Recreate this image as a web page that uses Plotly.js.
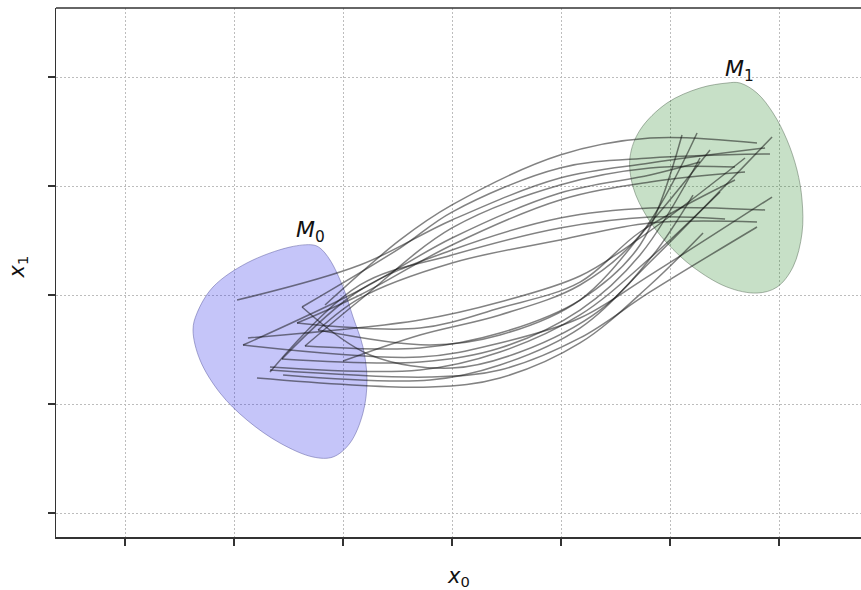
<!DOCTYPE html>
<html>
<head>
<meta charset="utf-8">
<script src="https://cdn.plot.ly/plotly-3.0.1.min.js"></script>
<style>html,body{margin:0;padding:0;background:#fff;}#chart{width:861px;height:590px;}</style>
</head>
<body>
<div id="chart"></div>
<script>
// Region outlines (data units)
const m0X = [-1.275,-1.486,-1.881,-2.193,-2.339,-2.376,-2.312,-2.128,-1.881,-1.578,-1.275,-1.092,-0.936,-0.817,-0.780,-0.817,-0.908,-1.000,-1.119,-1.211,-1.275];
const m0Y = [0.459,0.440,0.294,0.073,-0.165,-0.321,-0.596,-0.899,-1.147,-1.358,-1.486,-1.486,-1.358,-1.083,-0.780,-0.477,-0.202,0.073,0.321,0.431,0.459];
const m1X = [2.523,2.275,1.972,1.725,1.633,1.661,1.789,1.972,2.211,2.523,2.798,2.982,3.128,3.211,3.211,3.165,3.073,2.945,2.798,2.642,2.523];
const m1Y = [1.945,1.899,1.761,1.514,1.266,0.991,0.716,0.477,0.257,0.073,0.018,0.073,0.257,0.569,0.872,1.147,1.422,1.670,1.853,1.945,1.945];

// Trajectories from M0 to M1
const trajX = [
  [-1.165,-0.477,0,0.991,1.817,2.798],
  [-1.376,-0.477,0,0.991,1.817,2.917],
  [-1.972,-0.844,0,0.991,1.817,2.872],
  [-1.349,-0.844,0,0.991,1.817,2.596],
  [-1.917,-0.844,0,0.991,1.817,2.275],
  [-1.422,-0.844,0,0.991,1.817,2.688],
  [-1.560,-0.844,0,0.991,1.817,2.872],
  [-1.670,-0.844,0,0.991,1.817,2.505],
  [-1.229,-0.844,0,0.991,1.817,2.798],
  [-1.000,-0.294,0.440,1.174,1.725,2.248],
  [-1.349,-0.294,0.440,1.174,1.725,2.110],
  [-1.670,-0.294,0.440,1.174,1.817,2.459],
  [-1.789,-0.202,0.440,1.174,1.817,2.303],
  [-1.550,-0.202,0.440,1.174,1.817,2.936],
  [-1.560,-0.294,0.440,1.174,1.725,2.275],
  [-1.917,-0.294,0.440,1.174,1.817,2.936],
  [-1.670,-0.202,0.440,1.174,1.817,2.798],
  [-1.376,-0.752,0,0.624,1.358,1.844,2.211],
  [-1.422,-0.294,0.440,1.174,1.725,2.596],
  [-1.872,-0.294,0.440,1.174,1.725,2.688],
  [-1.229,-0.202,0.440,1.174,1.844,2.367]
];
const trajY = [
  [-0.092,0.505,0.826,1.284,1.440,1.394],
  [-0.110,0.431,0.761,1.165,1.257,1.294],
  [-0.046,0.275,0.688,1.073,1.211,1.349],
  [-0.468,-0.046,0.615,1.009,1.165,1.174],
  [-0.459,0.046,0.523,0.936,1.101,1.220],
  [-0.257,0,0.459,0.872,1.037,1.128],
  [-0.587,0.046,0.413,0.706,0.798,0.780],
  [-0.706,0.092,0.367,0.615,0.716,0.697],
  [-0.321,-0.028,0.294,0.505,0.661,0.670],
  [-0.606,-0.367,-0.183,0.092,0.550,1.486],
  [-0.468,-0.486,-0.349,-0.046,0.459,1.468],
  [-0.661,-0.688,-0.523,-0.183,0.339,0.945],
  [-0.761,-0.844,-0.761,-0.440,0.092,0.569],
  [-0.734,-0.780,-0.642,-0.303,0.303,1.450],
  [-0.587,-0.615,-0.486,-0.138,0.367,1.257],
  [-0.459,-0.569,-0.440,-0.211,0.183,0.899],
  [-0.688,-0.752,-0.688,-0.394,0.028,0.624],
  [-0.110,-0.550,-0.670,-0.523,-0.138,0.367,0.917],
  [-0.257,-0.303,-0.119,0.119,0.578,1.055],
  [-0.394,-0.229,-0.064,0.174,0.523,1.257],
  [-0.321,-0.459,-0.367,-0.046,0.688,1.330]
];

const xTicks = [-3,-2,-1,0,1,2,3];
const yTicks = [-2,-1,0,1,2];
const regionLabels = ['<i>M</i><sub>0</sub>','<i>M</i><sub>1</sub>'];
const labelX = [-1.30, 2.64];
const labelY = [0.58, 2.06];

const traces = [
  {x:m0X, y:m0Y, mode:'lines', fill:'toself', fillcolor:'rgba(45,45,235,0.28)',
   line:{shape:'spline', smoothing:1, color:'rgba(90,90,160,0.5)', width:1}, hoverinfo:'skip'},
  {x:m1X, y:m1Y, mode:'lines', fill:'toself', fillcolor:'rgba(30,130,30,0.25)',
   line:{shape:'spline', smoothing:1, color:'rgba(90,110,90,0.5)', width:1}, hoverinfo:'skip'}
];
for (let i = 0; i < trajX.length; i++) {
  traces.push({x:trajX[i], y:trajY[i], mode:'lines',
    line:{shape:'spline', smoothing:1, color:'rgba(15,15,15,0.52)', width:1.5}, hoverinfo:'skip'});
}

const annotations = regionLabels.map((t,i)=>({x:labelX[i], y:labelY[i], xref:'x', yref:'y', text:t, showarrow:false,
  font:{family:'DejaVu Sans', size:22, color:'#111'}}));
annotations.push({xref:'paper', yref:'paper', x:0.5, y:-0.076, text:'<i>x</i><sub>0</sub>', showarrow:false,
  yanchor:'middle', font:{family:'DejaVu Sans', size:21, color:'#111'}});
annotations.push({xref:'paper', yref:'paper', x:-0.047, y:0.51, text:'<i>x</i><sub>1</sub>', showarrow:false, textangle:-90,
  xanchor:'center', yanchor:'middle', font:{family:'DejaVu Sans', size:21, color:'#111'}});

const axisCommon = {showticklabels:false, ticks:'outside', ticklen:7, tickwidth:1.5, tickcolor:'#333',
  showgrid:true, gridcolor:'#bdbdbd', griddash:'2px,2px', gridwidth:1, zeroline:false,
  showline:true, linecolor:'#333', linewidth:1.5};

const layout = {
  width:861, height:590,
  margin:{l:56, r:0, t:8, b:53},
  paper_bgcolor:'#fff', plot_bgcolor:'#fff',
  showlegend:false,
  xaxis:Object.assign({}, axisCommon, {range:[-3.633,3.752], tickvals:xTicks}),
  yaxis:Object.assign({}, axisCommon, {range:[-2.22,2.633], tickvals:yTicks}),
  annotations:annotations,
  shapes:[{type:'line', xref:'paper', yref:'paper', x0:0, x1:1, y0:1, y1:1, line:{color:'#333', width:1.5}}]
};

Plotly.newPlot('chart', traces, layout, {displayModeBar:false, staticPlot:true});
</script>
</body>
</html>
